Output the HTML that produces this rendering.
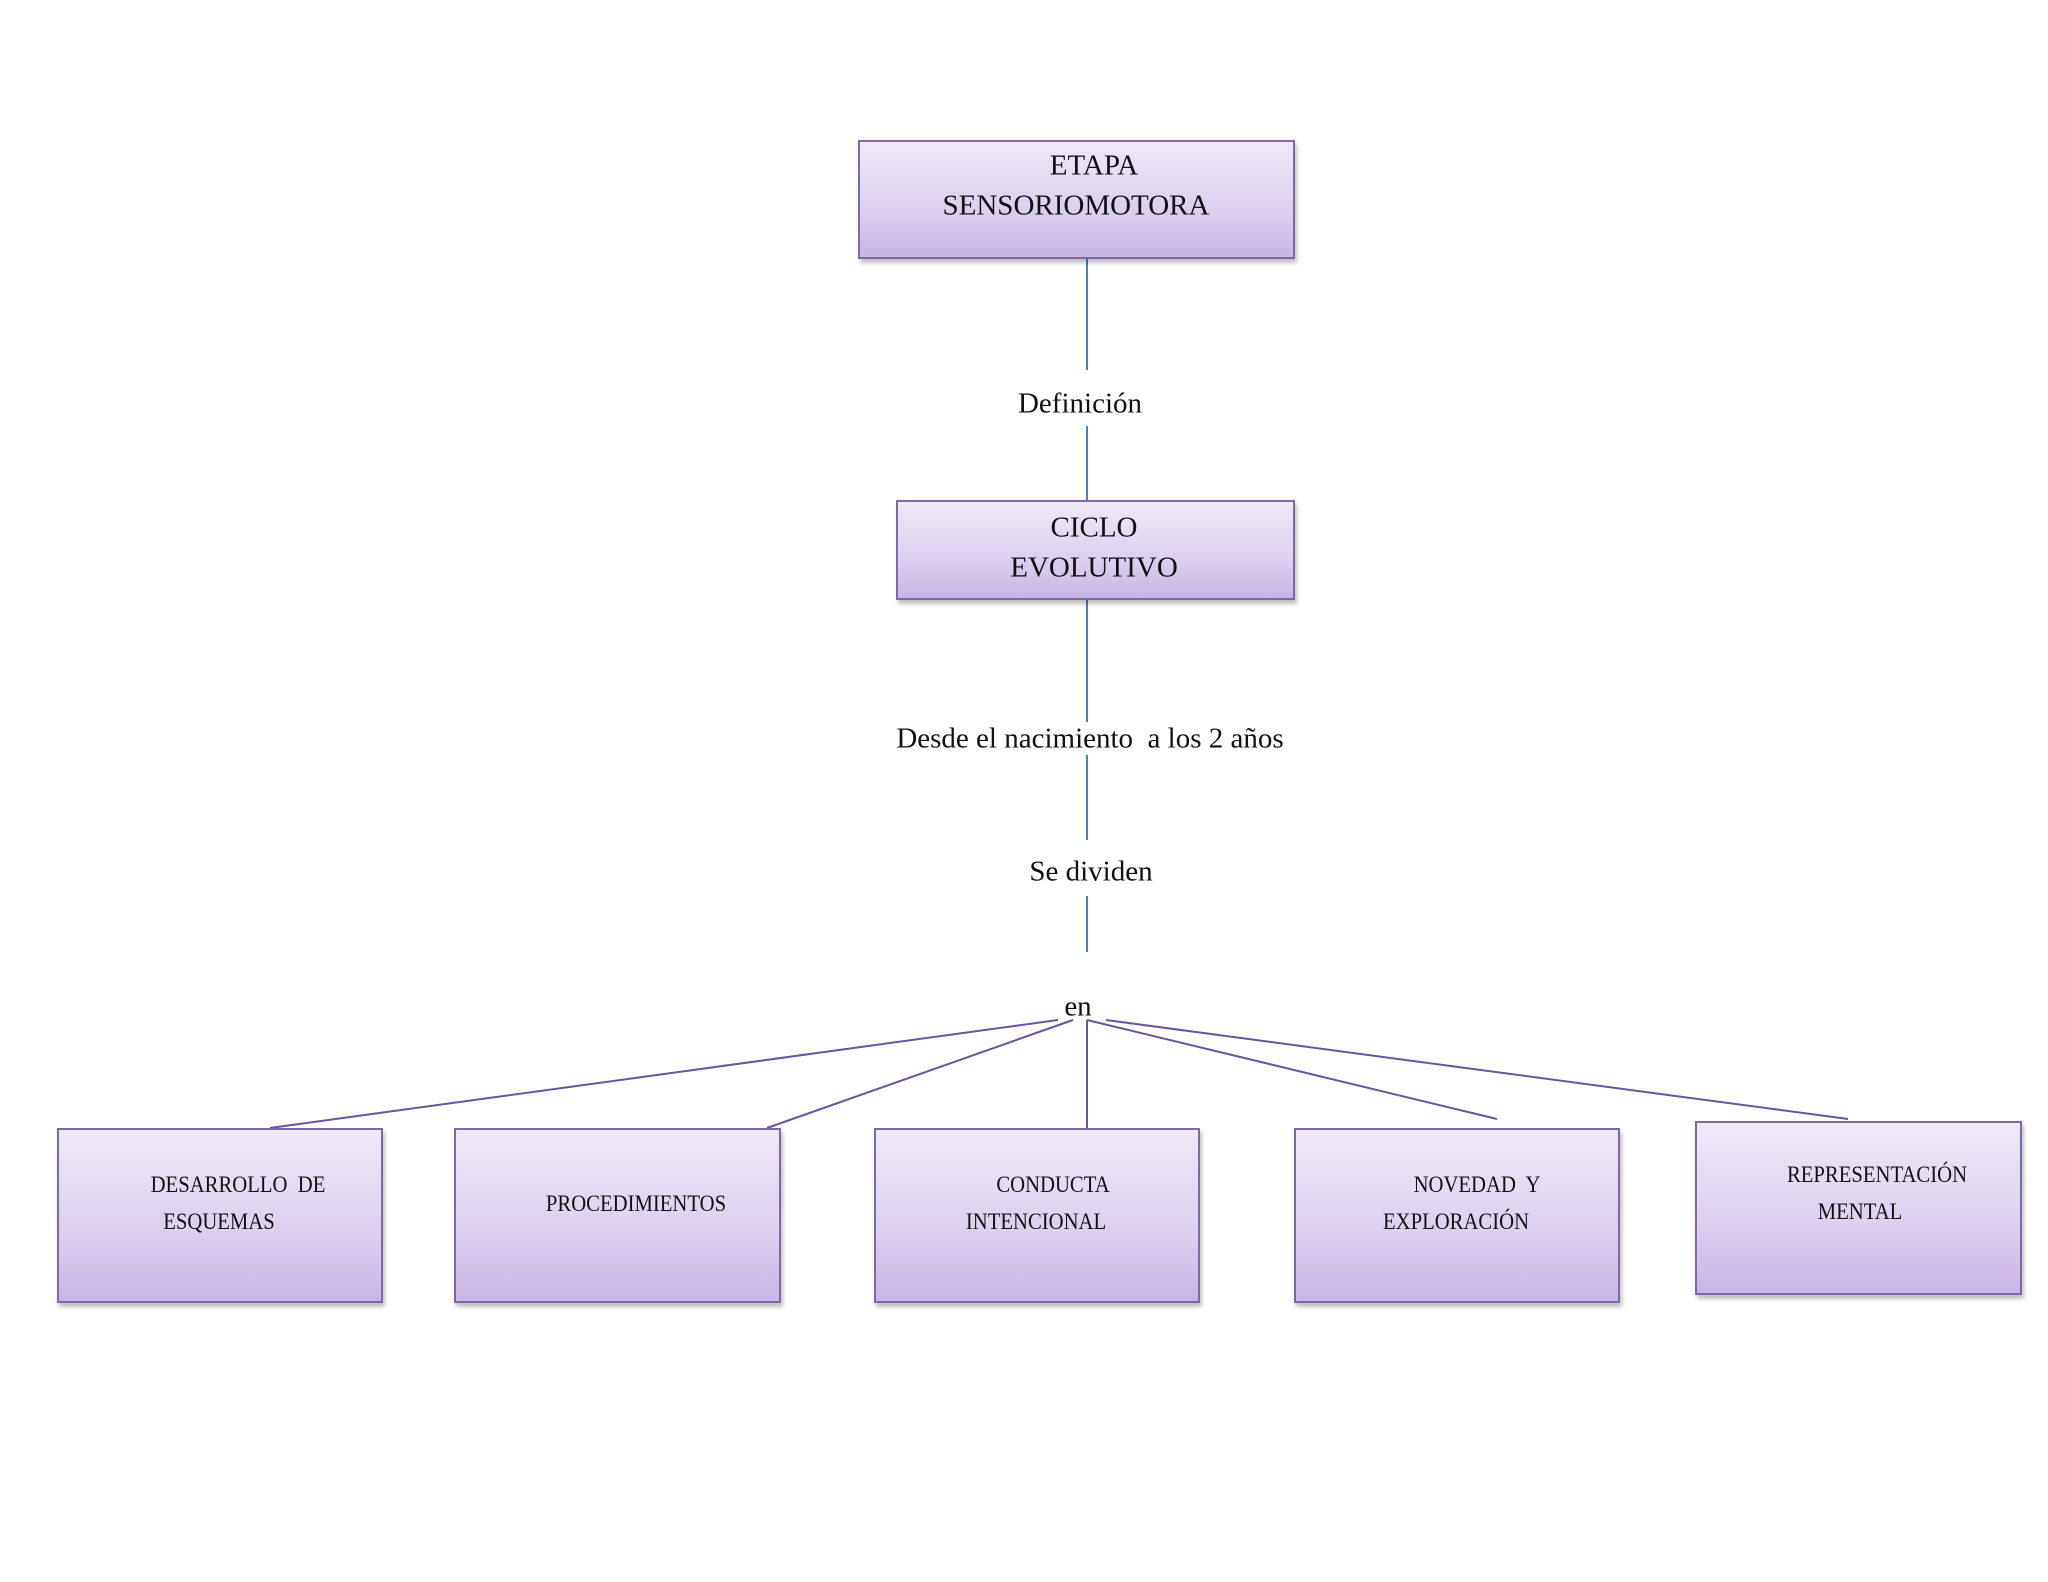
<!DOCTYPE html>
<html><head><meta charset="utf-8"><style>
body{margin:0;width:2048px;height:1582px;background:#fff;position:relative;overflow:hidden;font-family:"Liberation Serif",serif;color:#111}
.b{position:absolute;box-sizing:border-box;border:2px solid #7f68a6;background:linear-gradient(#f0e9f7,#dcd0ee 60%,#c8b4e6);box-shadow:2px 4px 4px rgba(0,0,0,.25)}
.t{position:absolute;transform:translate(-50%,-50%);white-space:nowrap}
.l{font-size:29px}
.s{font-size:23px;transform:translate(-50%,-50%) scaleX(.9)}
</style></head><body>
<svg width="2048" height="1582" style="position:absolute;left:0;top:0">
<g stroke="#4f7fbf" stroke-width="2">
<line x1="1087" y1="259" x2="1087" y2="370"/>
<line x1="1087" y1="426" x2="1087" y2="500"/>
<line x1="1087" y1="600" x2="1087" y2="722"/>
<line x1="1087" y1="755" x2="1087" y2="840"/>
<line x1="1087" y1="896" x2="1087" y2="952"/>
</g>
<g stroke="#6a55a0" stroke-width="2">
<line x1="1058" y1="1020" x2="270" y2="1128"/>
<line x1="1073" y1="1020" x2="767" y2="1128"/>
<line x1="1087" y1="1020" x2="1087" y2="1128"/>
<line x1="1087" y1="1020" x2="1497" y2="1119"/>
<line x1="1106" y1="1020" x2="1848" y2="1119"/>
</g>
</svg>
<div class="b" style="left:858px;top:140px;width:437px;height:119px"></div>
<div class="b" style="left:896px;top:500px;width:399px;height:100px"></div>
<div class="b" style="left:57px;top:1128px;width:326px;height:175px"></div>
<div class="b" style="left:454px;top:1128px;width:327px;height:175px"></div>
<div class="b" style="left:874px;top:1128px;width:326px;height:175px"></div>
<div class="b" style="left:1294px;top:1128px;width:326px;height:175px"></div>
<div class="b" style="left:1695px;top:1121px;width:327px;height:174px"></div>
<div class="t l" style="left:1094px;top:166px">ETAPA</div>
<div class="t l" style="left:1076px;top:206px">SENSORIOMOTORA</div>
<div class="t l" style="left:1080px;top:404px">Definición</div>
<div class="t l" style="left:1094px;top:528px">CICLO</div>
<div class="t l" style="left:1094px;top:568px">EVOLUTIVO</div>
<div class="t l" style="left:1090px;top:739px">Desde el nacimiento&nbsp; a los 2 años</div>
<div class="t l" style="left:1091px;top:872px">Se dividen</div>
<div class="t l" style="left:1078px;top:1007px">en</div>
<div class="t s" style="left:238px;top:1185px">DESARROLLO&nbsp; DE</div>
<div class="t s" style="left:219px;top:1222px">ESQUEMAS</div>
<div class="t s" style="left:636px;top:1204px">PROCEDIMIENTOS</div>
<div class="t s" style="left:1053px;top:1185px">CONDUCTA</div>
<div class="t s" style="left:1036px;top:1222px">INTENCIONAL</div>
<div class="t s" style="left:1477px;top:1185px">NOVEDAD&nbsp; Y</div>
<div class="t s" style="left:1456px;top:1222px">EXPLORACIÓN</div>
<div class="t s" style="left:1877px;top:1175px">REPRESENTACIÓN</div>
<div class="t s" style="left:1860px;top:1212px">MENTAL</div>
</body></html>
